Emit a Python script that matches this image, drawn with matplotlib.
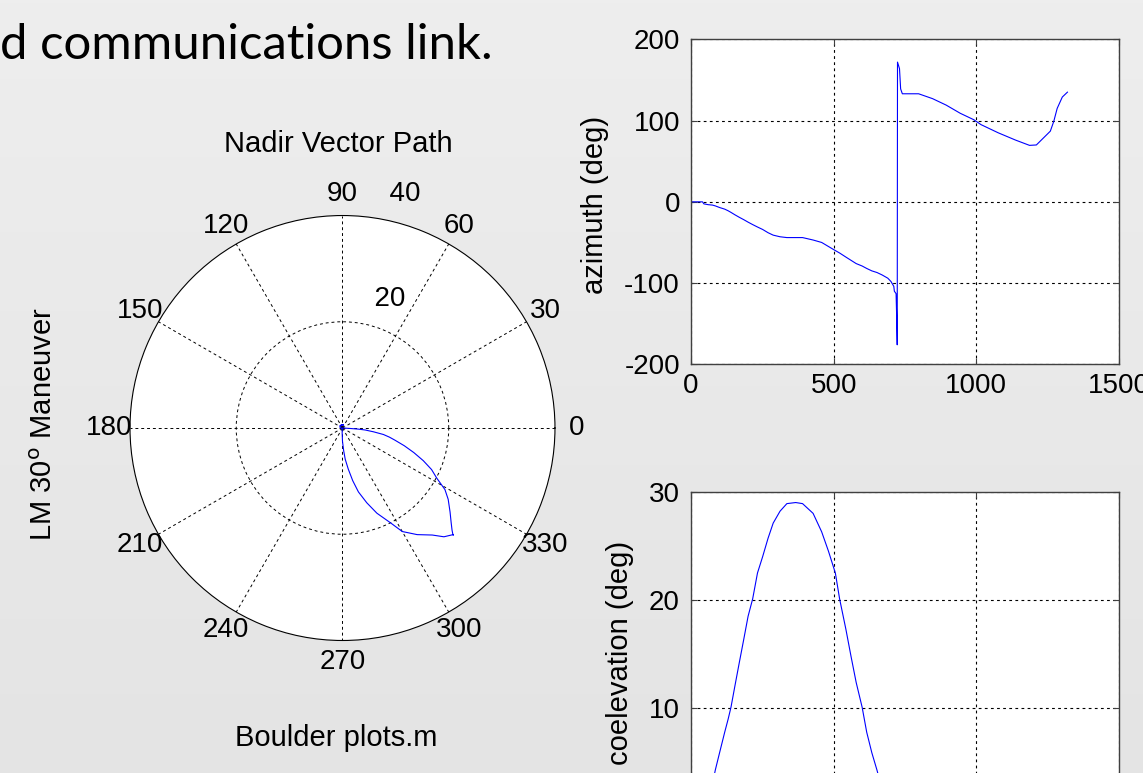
import matplotlib.pyplot as plt
import numpy as np
from matplotlib.colors import LinearSegmentedColormap

W, H = 1143, 773

# time history (s, deg, deg)
time_s = [0, 20, 40, 45, 60, 75, 85, 100, 118, 130, 140, 154, 169, 185, 200,
          216, 233, 251, 270, 288, 312, 336, 367, 391, 428, 458, 482, 506,
          521, 543, 561, 579, 600, 616, 634, 652, 670, 690, 701, 711, 713,
          719, 721, 723, 724, 731, 735, 741, 798, 847, 895, 944, 992, 1017,
          1077, 1138, 1187, 1211, 1260, 1272, 1284, 1302, 1320]
azimuth_deg = [0, 0, 0, -2.5, -3.5, -4, -5, -7, -9, -11, -13, -16, -19, -22,
               -25, -28, -31, -34, -38, -41, -43, -44, -44, -44, -47, -50,
               -55, -60, -63, -68, -72, -76, -79, -82, -85, -87, -90, -94,
               -98, -104, -110, -113, -140, -176, 172, 164, 139, 133, 133,
               127, 119, 109, 101, 95, 85, 76, 69.5, 70, 87, 99, 115, 129, 135]
coelevation_deg = [0, 0, 0, 0.2, 1.5, 3.0, 4.3, 5.9, 7.8, 9.0, 10.1, 12.1,
                   14.2, 16.4, 18.5, 20.1, 22.5, 24.0, 25.7, 27.1, 28.2, 28.9,
                   29.0, 28.9, 28.0, 26.3, 24.5, 22.5, 20.1, 17.3, 14.8, 12.4,
                   10.1, 7.8, 5.9, 4.3, 2.5, 0.9, 0.4, 0.2, 0.2, 0.2, 0.2, 0.2,
                   0.4, 0.5, 0.6, 0.6, 0.6, 0.6, 0.6, 0.6, 0.6, 0.6, 0.6, 0.6,
                   0.6, 0.6, 0.6, 0.6, 0.6, 0.6, 0.6]

theta_ticks = [0, 30, 60, 90, 120, 150, 180, 210, 240, 270, 300, 330]
r_ticks = [20, 40]
time_ticks = [0, 500, 1000, 1500]
az_ticks = [-200, -100, 0, 100, 200]
coel_ticks = [10, 20, 30]  # the 0 row is cropped off the slide

plt.rcParams['font.family'] = 'Liberation Sans'
plt.rcParams['axes.unicode_minus'] = False
dotted = (0, (2.5, 3))


def px(x, y):
    return x / W, 1 - y / H


fig = plt.figure(figsize=(W / 100, H / 100), dpi=100)

# slide background
bg = fig.add_axes([0, 0, 1, 1], zorder=-10)
grad = np.linspace(0, 1, 256).reshape(-1, 1)
cmap = LinearSegmentedColormap.from_list('slide', ['#eeeeee', '#e4e4e4'])
bg.imshow(grad, aspect='auto', cmap=cmap, extent=[0, 1, 0, 1])
bg.axis('off')

fig.text(*px(493, 59), 'd communications link.', ha='right', va='baseline',
         fontsize=35.4, family='Lato', color='black')

# polar plot of the nadir vector
pax = fig.add_axes([0.11374, 0.1714, 0.3718, 0.5498], projection='polar')
pax.set_facecolor('white')
pax.plot(np.deg2rad(azimuth_deg), coelevation_deg, color='#0000ff', lw=0.8)
pax.set_ylim(0, 40)
pax.set_yticks([20])
pax.set_yticklabels([])
pax.set_xticks(np.deg2rad(theta_ticks))
pax.set_xticklabels([])
pax.tick_params(length=0)
pax.grid(True, color='black', linestyle=(0, (3, 3)), lw=0.7)
pax.spines['polar'].set_color('black')
pax.spines['polar'].set_linewidth(0.8)
for a in theta_ticks:
    pax.text(np.deg2rad(a), 44, str(a), ha='center', va='center', fontsize=20)
for r in r_ticks:
    pax.text(np.deg2rad(82), r + 2, '  %d' % r, ha='left', va='bottom',
             fontsize=20)

fig.text(*px(338, 144), 'Nadir Vector Path', ha='center', va='center',
         fontsize=21)
fig.text(*px(336, 738), 'Boulder plots.m', ha='center', va='center',
         fontsize=21)
fig.text(*px(44, 424), 'LM 30$^{\\rm o}$ Maneuver', ha='center', va='center',
         rotation=90, fontsize=21)


def strip(ax, y, yticks, ylim):
    ax.plot(time_s, y, color='#0000ff', lw=0.8)
    ax.set_xlim(0, 1500)
    ax.set_xticks(time_ticks)
    ax.set_yticks(yticks)
    ax.set_ylim(*ylim)
    ax.grid(True, color='black', linestyle=dotted, lw=0.8)
    ax.tick_params(direction='in', length=4, top=True, right=True,
                   labelsize=20, color='#404040')
    ax.tick_params(axis='y', pad=8)
    ax.tick_params(axis='x', pad=6)
    for s in ax.spines.values():
        s.set_color('#404040')
        s.set_linewidth(1.0)


ax1 = fig.add_axes([0.6046, 0.5287, 0.3742, 0.4204])
strip(ax1, azimuth_deg, az_ticks, (-200, 200))
fig.text(*px(595, 205), 'azimuth (deg)', ha='center', va='center',
         rotation=90, fontsize=21)

ax2 = fig.add_axes([0.6046, -0.0565, 0.3742, 0.4204])
strip(ax2, coelevation_deg, coel_ticks, (0, 30))
ax2.tick_params(axis='x', labelbottom=False)
fig.text(*px(620, 653), 'coelevation (deg)', ha='center', va='center',
         rotation=90, fontsize=21)

fig.savefig('out.png', dpi=100)
